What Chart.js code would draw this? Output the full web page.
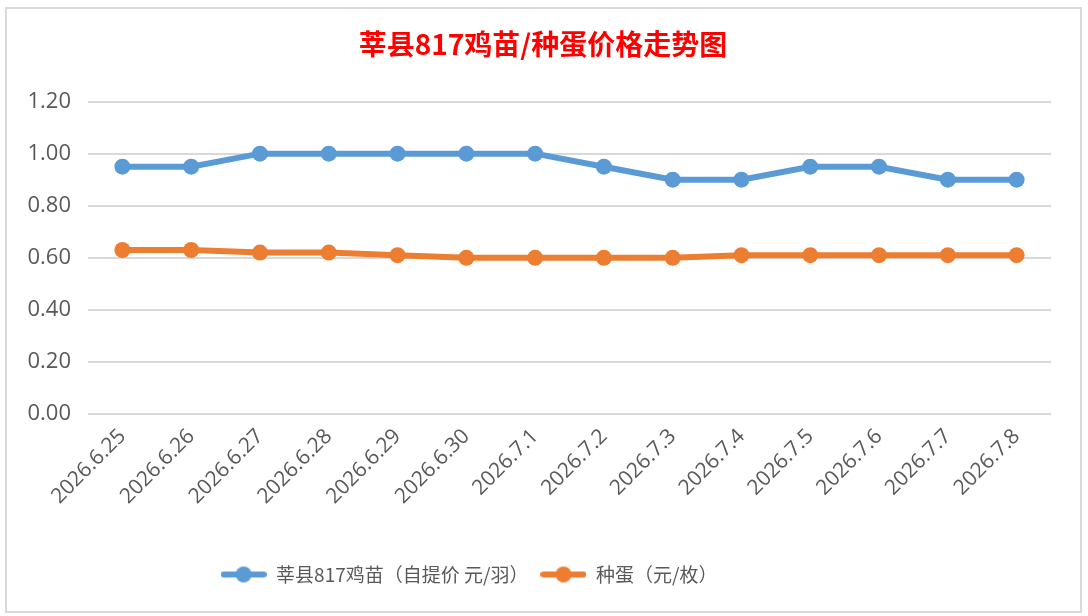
<!DOCTYPE html>
<html>
<head>
<meta charset="utf-8">
<script src="https://cdn.jsdelivr.net/npm/chart.js@4.4.1/dist/chart.umd.min.js"></script>
<style>
  html, body { margin: 0; padding: 0; background: #fff; }
  body { width: 1088px; height: 616px; position: relative; overflow: hidden; }
  #box {
    position: absolute; left: 5px; top: 7px;
    width: 1073px; height: 602px;
    border: 2px solid #d9d9d9; background: #fff;
  }
  canvas { display: block; }
</style>
</head>
<body>
<div id="box"><canvas id="myChart" width="1073" height="602"></canvas></div>
<script>
// data
const labels = [
    '2026.6.25', '2026.6.26', '2026.6.27', '2026.6.28', '2026.6.29',
    '2026.6.30', '2026.7.1', '2026.7.2', '2026.7.3', '2026.7.4',
    '2026.7.5', '2026.7.6', '2026.7.7', '2026.7.8',
];
const chickValues = [0.95, 0.95, 1.00, 1.00, 1.00, 1.00, 1.00, 0.95, 0.90, 0.90, 0.95, 0.95, 0.90, 0.90];
const eggValues = [0.63, 0.63, 0.62, 0.62, 0.61, 0.60, 0.60, 0.60, 0.60, 0.61, 0.61, 0.61, 0.61, 0.61];
const seriesNames = ['莘县817鸡苗（自提价 元/羽）', '种蛋（元/枚）'];
const colors = ['#5B9BD5', '#ED7D31'];

const textColor = '#595959';
const gridColor = '#d9d9d9';

// legend marker: short line with a dot in the middle
function legendMarker(color) {
    const c = document.createElement('canvas');
    c.width = 46;
    c.height = 18;
    const ctx = c.getContext('2d');
    ctx.strokeStyle = color;
    ctx.lineWidth = 6;
    ctx.lineCap = 'round';
    ctx.beginPath();
    ctx.moveTo(3, 9);
    ctx.lineTo(43, 9);
    ctx.stroke();
    ctx.fillStyle = color;
    ctx.beginPath();
    ctx.arc(23, 9, 8, 0, Math.PI * 2);
    ctx.fill();
    return c;
}
const markers = colors.map(legendMarker);

// title and legend are not centred on the canvas in the original
const nudgeBoxes = {
    id: 'nudgeBoxes',
    afterLayout: function(chart) {
        const lg = chart.legend;
        lg.left -= 60;
        lg.right -= 60;
        const t = chart.titleBlock;
        t.left += 14;
        t.right += 14;
    }
};

const data = {
    labels: labels,
    datasets: [{
        label: seriesNames[0],
        data: chickValues,
        borderColor: colors[0],
        backgroundColor: colors[0],
        borderWidth: 6,
        pointRadius: 8,
        pointHoverRadius: 8,
        pointBorderWidth: 0,
    }, {
        label: seriesNames[1],
        data: eggValues,
        borderColor: colors[1],
        backgroundColor: colors[1],
        borderWidth: 6,
        pointRadius: 8,
        pointHoverRadius: 8,
        pointBorderWidth: 0,
    }]
};

const config = {
    type: 'line',
    data: data,
    plugins: [nudgeBoxes],
    options: {
        responsive: false,
        animation: false,
        layout: { padding: { left: 0, right: 29, top: 0, bottom: 17 } },
        plugins: {
            title: {
                display: true,
                text: '莘县817鸡苗/种蛋价格走势图',
                color: '#ff0000',
                font: { family: '"Noto Sans CJK SC", sans-serif', size: 28, weight: 'bold' },
                padding: { top: 19, bottom: 40 },
            },
            legend: {
                position: 'bottom',
                labels: {
                    color: textColor,
                    font: { family: '"Noto Sans CJK SC", sans-serif', size: 19 },
                    usePointStyle: true,
                    pointStyleWidth: 46,
                    boxHeight: 16,
                    padding: 12,
                    generateLabels: function(chart) {
                        const items = Chart.defaults.plugins.legend.labels.generateLabels(chart);
                        items.forEach(function(item, i) { item.pointStyle = markers[i]; });
                        return items;
                    }
                }
            },
            tooltip: { enabled: false }
        },
        scales: {
            x: {
                offset: true,
                grid: { display: false },
                border: { display: false },
                ticks: {
                    color: textColor,
                    font: { family: '"Open Sans", sans-serif', size: 21 },
                    minRotation: 45,
                    maxRotation: 45,
                    padding: 2,
                    autoSkip: false,
                },
                afterFit: function(scale) { scale.height = 139; }
            },
            y: {
                min: 0,
                max: 1.2,
                grid: { color: gridColor, lineWidth: 2, drawTicks: false },
                border: { display: false },
                ticks: {
                    stepSize: 0.2,
                    color: textColor,
                    font: { family: '"Open Sans", sans-serif', size: 22 },
                    padding: 17,
                    callback: function(v) { return v.toFixed(2); }
                },
                afterFit: function(scale) { scale.width = 81; }
            }
        }
    }
};

const myChart = new Chart(document.getElementById('myChart'), config);
</script>
</body>
</html>
